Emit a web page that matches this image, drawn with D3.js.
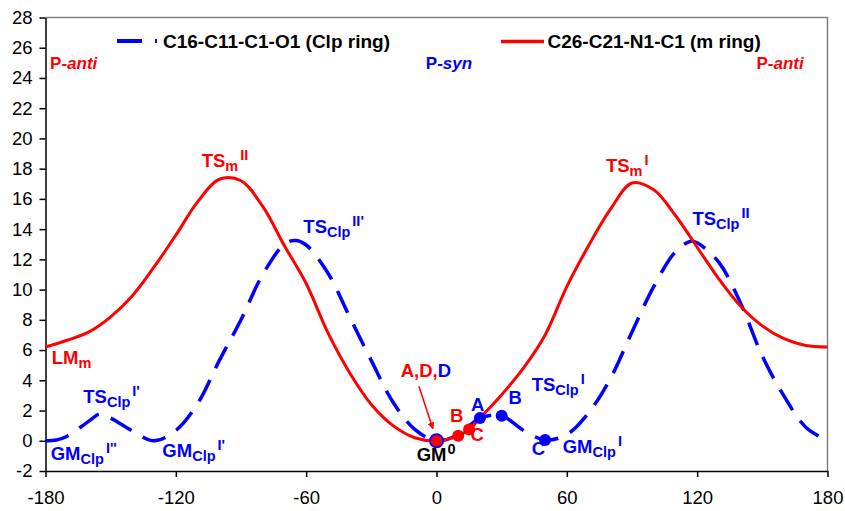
<!DOCTYPE html>
<html><head><meta charset="utf-8">
<script src="https://cdn.jsdelivr.net/npm/d3@7"></script>
<style>body{margin:0;background:#fff} text{font-family:"Liberation Sans",Arial,Helvetica,sans-serif}</style>
</head><body><svg id="c" width="845" height="511"></svg>
<script>
// ---- data ----
const clpAngles = [-180,-175,-170,-160,-155,-150,-140,-130,-120,-110,-100,-90,-80,-70,-65,-60,-50,-40,-30,-20,-10,0,10,20,30,40,50,60,70,80,90,100,110,117,120,130,140,150,160,170,180];
const clpEnergy = [0,0.05,0.3,1.3,1.78,1.5,0.65,0,0.68,2.45,5.3,8.0,11.0,13.0,13.25,12.95,11.1,8.2,5.3,2.55,0.75,0,0.4,1.5,1.65,0.7,0.05,0.42,1.85,4.1,7.2,10.2,12.5,13.2,13.1,11.8,9.1,5.6,2.95,0.9,0];
const mAngles = [-180,-170,-160,-150,-140,-130,-120,-110,-100,-90,-80,-70,-60,-50,-40,-30,-20,-10,0,10,15,20,30,40,50,60,70,80,90,100,110,120,130,140,150,160,170,180];
const mEnergy = [6.2,6.65,7.2,8.2,9.6,11.5,13.6,15.8,17.3,17.2,15.5,12.9,10.4,7.15,4.5,2.4,1.0,0.2,0,0.33,0.75,1.5,3.05,4.8,7.0,10.2,12.9,15.3,17.05,16.6,14.9,12.8,10.7,8.9,7.6,6.75,6.3,6.2];
const clpPointAngles = [0,20,30,50];
const clpPointEnergy = [0,1.5,1.65,0.05];
const mPointAngles = [0,10,15];
const mPointEnergy = [0,0.33,0.75];
const xTicks = [-180,-120,-60,0,60,120,180];
const yTicks = d3.range(-2,29,2);
const seriesNames = ["C16-C11-C1-O1 (Clp ring)","C26-C21-N1-C1 (m ring)"];

const RED="#ff0000", BLUE="#0000ff";
const svg = d3.select("#c");
const x = d3.scaleLinear().domain([-180,180]).range([45.5,827.5]);
const y = d3.scaleLinear().domain([-2,28]).range([471,17.5]);

// frame (top/right)
svg.append("path").attr("d",`M${x(-180)},${y(28)}H${x(180)}V${y(-2)}`)
  .attr("fill","none").attr("stroke","#808080").attr("stroke-width",1.5);

const ax = svg.append("g").attr("transform",`translate(${x(-180)},0)`)
  .call(d3.axisLeft(y).tickValues(yTicks).tickSize(6).tickSizeOuter(0).tickPadding(7).tickFormat(d3.format("d")));
const bx = svg.append("g").attr("transform",`translate(0,${y(-2)})`)
  .call(d3.axisBottom(x).tickValues(xTicks).tickSize(6).tickSizeOuter(0).tickPadding(14).tickFormat(d3.format("d")));
[ax,bx].forEach(g=>{
  g.selectAll("text").attr("font-size",18.5).attr("fill","#000").style("font-family",'"Liberation Sans",Arial,sans-serif');
  g.selectAll("line").attr("stroke","#000").attr("stroke-width",1.5);
  g.select(".domain").attr("stroke","#000").attr("stroke-width",1.5);
});
ax.selectAll("text").text(d=>d<0?"-"+Math.abs(d):d);
bx.selectAll("text").text(d=>d<0?"-"+Math.abs(d):d);

const line = d3.line().x(d=>x(d[0])).y(d=>y(d[1])).curve(d3.curveCatmullRom.alpha(0.5));
const clp = clpAngles.map((a,i)=>[a,clpEnergy[i]]);
const mr = mAngles.map((a,i)=>[a,mEnergy[i]]);

svg.append("path").attr("d",line(clp)).attr("fill","none").attr("stroke",BLUE)
  .attr("stroke-width",3.5).attr("stroke-dasharray","24,13");
svg.append("path").attr("d",line(mr)).attr("fill","none").attr("stroke",RED)
  .attr("stroke-width",3);

// markers
svg.selectAll(".bp").data(clpPointAngles.map((a,i)=>[a,clpPointEnergy[i]])).join("circle")
  .attr("cx",d=>x(d[0])).attr("cy",d=>y(d[1])).attr("r",d=>d[0]===0?7.5:6).attr("fill",BLUE);
svg.selectAll(".rp").data(mPointAngles.map((a,i)=>[a,mPointEnergy[i]])).join("circle")
  .attr("cx",d=>x(d[0])).attr("cy",d=>y(d[1])).attr("r",d=>d[0]===0?5.8:6).attr("fill",RED);

// legend
const lg = svg.append("g");
lg.append("line").attr("x1",117).attr("x2",157).attr("y1",41).attr("y2",41)
  .attr("stroke",BLUE).attr("stroke-width",4).attr("stroke-dasharray","25,13");
lg.append("text").attr("x",163).attr("y",47.5).attr("font-size",19).attr("font-weight","bold").text(seriesNames[0]);
lg.append("line").attr("x1",501).attr("x2",544).attr("y1",41.5).attr("y2",41.5)
  .attr("stroke",RED).attr("stroke-width",3.5);
lg.append("text").attr("x",547.5).attr("y",47.5).attr("font-size",19).attr("font-weight","bold").text(seriesNames[1]);

// annotations: [angle, energy, color, segments, size]  segment: [text, kind, color?]
const labels = [
  [-177.9,24.6,RED,[["P-","n"],["anti","i"]],17],
  [-4.9,24.6,BLUE,[["P-","n"],["syn","i"]],17],
  [147.3,24.6,RED,[["P-","n"],["anti","i"]],17],
  [-108.1,18.14,RED,[["TS","n"],["m","sub"],["II","sup"]],18.5],
  [-61.3,13.76,BLUE,[["TS","n"],["Clp","sub"],["II'","sup"]],18.5],
  [78.0,17.79,RED,[["TS","n"],["m","sub"],["I","sup"]],18.5],
  [117.8,14.3,BLUE,[["TS","n"],["Clp","sub"],["II","sup"]],18.5],
  [-177.1,5.05,RED,[["LM","n"],["m","sub"]],18.5],
  [-162.6,2.47,BLUE,[["TS","n"],["Clp","sub"],["I'","sup"]],18.5],
  [-177.6,-1.24,BLUE,[["GM","n"],["Clp","sub"],["I''","sup"]],18.5],
  [-126.2,-1.06,BLUE,[["GM","n"],["Clp","sub"],["I'","sup"]],18.5],
  [-16.5,4.23,RED,[["A,D,","n"],["D","n",BLUE]],18.5],
  [-9.1,-1.35,"#000",[["GM","n"],["0","sup0"]],18.5],
  [6.2,1.23,RED,[["B","n"]],18.5],
  [15.7,-0.03,RED,[["C","n"]],18.5],
  [15.9,1.96,BLUE,[["A","n"]],18.5],
  [33.1,2.4,BLUE,[["B","n"]],18.5],
  [43.8,3.28,BLUE,[["TS","n"],["Clp","sub"],["I","sup"]],18.5],
  [43.8,-0.91,BLUE,[["C","n"]],18.5],
  [58.1,-0.79,BLUE,[["GM","n"],["Clp","sub"],["I","sup"]],18.5]
];
labels.forEach(([a,e,col,segs,fs])=>{
  const t = svg.append("text").attr("x",x(a)).attr("y",y(e)).attr("fill",col)
    .attr("font-size",fs).attr("font-weight","bold");
  let cur=0;
  segs.forEach(([txt,kind,c2])=>{
    const target = kind==="sub"?4:(kind==="sup"||kind==="sup0")?-7:0;
    const ts = t.append("tspan").attr("dy",target-cur).text(txt);
    cur=target;
    if(kind==="sub") ts.attr("font-size",14.5);
    if(kind==="sup") ts.attr("font-size",14.5).attr("dx",2);
    if(kind==="sup0") ts.attr("font-size",14.5).attr("dx",1);
    if(kind==="i") ts.attr("font-style","italic");
    if(c2) ts.attr("fill",c2);
  });
});

// arrow
svg.append("defs").append("marker").attr("id","ah").attr("viewBox","0 0 10 10")
  .attr("refX",9).attr("refY",5).attr("markerWidth",7).attr("markerHeight",7)
  .attr("markerUnits","userSpaceOnUse").attr("orient","auto")
  .append("path").attr("d","M0,0L10,5L0,10z").attr("fill",RED);
svg.append("line").attr("x1",x(-8.1)).attr("y1",y(3.61)).attr("x2",x(-1.66)).attr("y2",y(0.79))
  .attr("stroke",RED).attr("stroke-width",1.5).attr("marker-end","url(#ah)");
</script></body></html>
